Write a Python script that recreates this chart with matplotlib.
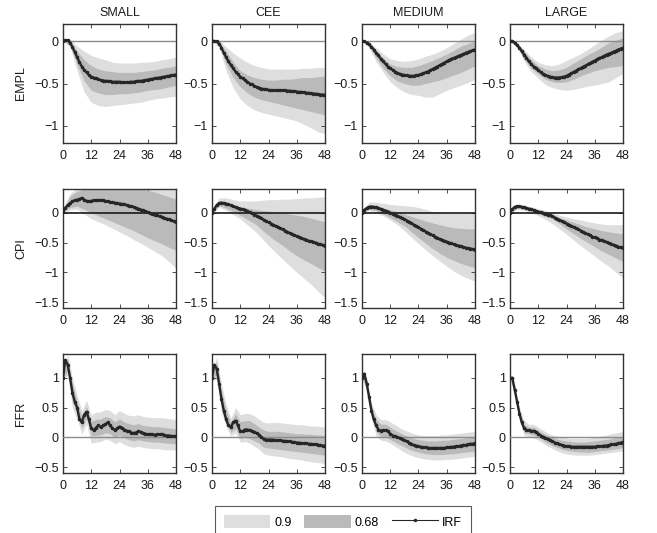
import numpy as np
import matplotlib
matplotlib.use("Agg")
import matplotlib.pyplot as plt
from matplotlib.patches import Patch
from matplotlib.lines import Line2D

plt.rcParams['font.family'] = ['Liberation Sans', 'DejaVu Sans']
plt.rcParams['font.size'] = 9

# %% data
models = ["SMALL", "CEE", "MEDIUM", "LARGE"]
variables = ["EMPL", "CPI", "FFR"]

months = np.arange(49)              # horizon of the IRF
band_months_slow = np.arange(0, 49, 3)   # band grid for EMPL, CPI
band_months_ffr = np.arange(0, 49, 2)    # band grid for FFR

# ---- EMPL
empl_small_irf = [0, 0.01, 0.01, -0.02, -0.07, -0.13, -0.19, -0.25, -0.30, -0.34,
                  -0.37, -0.40, -0.42, -0.43, -0.44, -0.45, -0.46, -0.465, -0.47, -0.47,
                  -0.475, -0.48, -0.48, -0.48, -0.48, -0.485, -0.485, -0.485, -0.485, -0.48,
                  -0.48, -0.475, -0.47, -0.47, -0.465, -0.46, -0.455, -0.45, -0.445, -0.44,
                  -0.435, -0.43, -0.425, -0.42, -0.415, -0.41, -0.405, -0.40, -0.395]
empl_small_u90 = [0.03, 0.02, -0.06, -0.12, -0.17, -0.20, -0.22, -0.25, -0.26, -0.26, -0.26, -0.25, -0.25, -0.24, -0.22, -0.21, -0.19]
empl_small_u68 = [0.01, 0.0, -0.12, -0.22, -0.29, -0.33, -0.35, -0.36, -0.37, -0.37, -0.37, -0.36, -0.35, -0.34, -0.32, -0.31, -0.29]
empl_small_l68 = [0, -0.05, -0.28, -0.47, -0.58, -0.61, -0.63, -0.63, -0.62, -0.62, -0.61, -0.60, -0.58, -0.57, -0.56, -0.54, -0.52]
empl_small_l90 = [0, -0.07, -0.35, -0.60, -0.72, -0.76, -0.77, -0.76, -0.75, -0.74, -0.73, -0.72, -0.70, -0.68, -0.67, -0.66, -0.65]

empl_cee_irf = [0, 0, -0.005, -0.03, -0.08, -0.14, -0.19, -0.24, -0.28, -0.32,
                -0.36, -0.39, -0.42, -0.44, -0.46, -0.48, -0.50, -0.51, -0.53, -0.54,
                -0.55, -0.56, -0.565, -0.57, -0.575, -0.58, -0.58, -0.58, -0.58, -0.58,
                -0.58, -0.58, -0.585, -0.585, -0.59, -0.59, -0.595, -0.60, -0.60, -0.605,
                -0.61, -0.61, -0.615, -0.62, -0.62, -0.625, -0.63, -0.63, -0.635]
empl_cee_u90 = [0.02, 0.01, -0.07, -0.14, -0.20, -0.25, -0.29, -0.31, -0.33, -0.33, -0.33, -0.33, -0.33, -0.32, -0.32, -0.31, -0.31]
empl_cee_u68 = [0.01, -0.01, -0.12, -0.25, -0.35, -0.40, -0.43, -0.45, -0.46, -0.46, -0.45, -0.45, -0.44, -0.43, -0.43, -0.42, -0.41]
empl_cee_l68 = [0, -0.05, -0.27, -0.43, -0.54, -0.61, -0.66, -0.69, -0.71, -0.73, -0.75, -0.77, -0.79, -0.81, -0.83, -0.85, -0.87]
empl_cee_l90 = [0, -0.07, -0.35, -0.55, -0.68, -0.76, -0.81, -0.84, -0.86, -0.88, -0.90, -0.92, -0.94, -0.98, -1.02, -1.07, -1.09]

empl_medium_irf = [0, -0.005, -0.02, -0.04, -0.07, -0.10, -0.14, -0.17, -0.21, -0.24,
                   -0.27, -0.30, -0.32, -0.34, -0.36, -0.375, -0.385, -0.395, -0.40, -0.405,
                   -0.41, -0.41, -0.41, -0.405, -0.40, -0.39, -0.38, -0.37, -0.36, -0.345,
                   -0.33, -0.315, -0.30, -0.285, -0.27, -0.255, -0.24, -0.225, -0.21, -0.20,
                   -0.19, -0.175, -0.165, -0.155, -0.14, -0.13, -0.12, -0.11, -0.10]
empl_medium_u90 = [0.01, -0.01, -0.08, -0.15, -0.21, -0.23, -0.24, -0.23, -0.21, -0.18, -0.155, -0.12, -0.08, -0.03, 0.02, 0.07, 0.10]
empl_medium_u68 = [0.0, -0.02, -0.11, -0.20, -0.27, -0.30, -0.31, -0.31, -0.29, -0.26, -0.23, -0.19, -0.155, -0.11, -0.06, -0.03, 0.0]
empl_medium_l68 = [0, -0.06, -0.20, -0.32, -0.41, -0.47, -0.50, -0.52, -0.52, -0.50, -0.48, -0.46, -0.43, -0.40, -0.37, -0.33, -0.29]
empl_medium_l90 = [0, -0.08, -0.24, -0.37, -0.48, -0.55, -0.60, -0.63, -0.64, -0.66, -0.66, -0.62, -0.58, -0.55, -0.52, -0.49, -0.45]

empl_large_irf = [0, 0, -0.02, -0.05, -0.08, -0.12, -0.16, -0.20, -0.24, -0.27,
                  -0.30, -0.32, -0.345, -0.365, -0.385, -0.40, -0.41, -0.42, -0.425, -0.43,
                  -0.43, -0.43, -0.425, -0.42, -0.41, -0.395, -0.38, -0.365, -0.35, -0.335,
                  -0.32, -0.305, -0.29, -0.275, -0.26, -0.245, -0.23, -0.215, -0.20, -0.19,
                  -0.175, -0.16, -0.15, -0.14, -0.125, -0.115, -0.10, -0.09, -0.08]
empl_large_u90 = [0.01, -0.02, -0.10, -0.19, -0.25, -0.28, -0.29, -0.27, -0.23, -0.19, -0.15, -0.10, -0.04, 0.01, 0.06, 0.10, 0.12]
empl_large_u68 = [0.0, -0.03, -0.12, -0.22, -0.29, -0.33, -0.35, -0.34, -0.31, -0.26, -0.21, -0.16, -0.12, -0.07, -0.02, 0.01, 0.04]
empl_large_l68 = [0, -0.06, -0.21, -0.32, -0.39, -0.45, -0.48, -0.49, -0.48, -0.45, -0.41, -0.38, -0.35, -0.33, -0.31, -0.30, -0.29]
empl_large_l90 = [0, -0.07, -0.24, -0.36, -0.44, -0.51, -0.55, -0.57, -0.58, -0.57, -0.55, -0.53, -0.52, -0.50, -0.48, -0.43, -0.38]

# ---- CPI
cpi_small_irf = [0.03, 0.08, 0.13, 0.16, 0.19, 0.21, 0.22, 0.23, 0.25, 0.22,
                 0.20, 0.19, 0.20, 0.21, 0.21, 0.21, 0.215, 0.21, 0.20, 0.19,
                 0.18, 0.175, 0.17, 0.16, 0.155, 0.15, 0.14, 0.13, 0.12, 0.11,
                 0.10, 0.085, 0.07, 0.055, 0.04, 0.025, 0.01, -0.005, -0.02, -0.03,
                 -0.045, -0.06, -0.07, -0.085, -0.10, -0.11, -0.125, -0.14, -0.155]
cpi_small_u90 = [0.08, 0.32, 0.42, 0.45, 0.47, 0.48, 0.48, 0.48, 0.48, 0.48, 0.47, 0.46, 0.45, 0.44, 0.43, 0.42, 0.41]
cpi_small_u68 = [0.05, 0.28, 0.36, 0.40, 0.42, 0.43, 0.43, 0.43, 0.43, 0.42, 0.41, 0.40, 0.38, 0.35, 0.31, 0.27, 0.23]
cpi_small_l68 = [0.01, 0.09, 0.11, 0.06, 0.0, -0.05, -0.10, -0.15, -0.20, -0.25, -0.30, -0.36, -0.42, -0.47, -0.52, -0.58, -0.63]
cpi_small_l90 = [-0.01, 0.05, 0.06, -0.02, -0.10, -0.15, -0.20, -0.26, -0.32, -0.38, -0.45, -0.51, -0.58, -0.65, -0.72, -0.82, -0.93]

cpi_cee_irf = [0.0, 0.07, 0.13, 0.16, 0.17, 0.165, 0.155, 0.14, 0.125, 0.11,
               0.095, 0.08, 0.07, 0.06, 0.045, 0.03, 0.01, -0.01, -0.03, -0.05,
               -0.07, -0.09, -0.12, -0.14, -0.16, -0.18, -0.20, -0.22, -0.24, -0.26,
               -0.28, -0.30, -0.32, -0.34, -0.36, -0.38, -0.39, -0.41, -0.42, -0.44,
               -0.45, -0.47, -0.48, -0.49, -0.50, -0.52, -0.53, -0.54, -0.55]
cpi_cee_u90 = [0.05, 0.25, 0.25, 0.22, 0.20, 0.20, 0.20, 0.21, 0.22, 0.22, 0.23, 0.23, 0.24, 0.25, 0.25, 0.26, 0.27]
cpi_cee_u68 = [0.03, 0.20, 0.18, 0.13, 0.10, 0.08, 0.06, 0.04, 0.03, 0.01, 0.0, -0.02, -0.04, -0.06, -0.09, -0.12, -0.15]
cpi_cee_l68 = [-0.01, 0.12, 0.08, 0.02, -0.04, -0.11, -0.18, -0.28, -0.38, -0.47, -0.55, -0.64, -0.72, -0.79, -0.85, -0.92, -0.98]
cpi_cee_l90 = [-0.02, 0.10, 0.04, -0.03, -0.10, -0.20, -0.30, -0.42, -0.55, -0.67, -0.78, -0.89, -1.00, -1.10, -1.20, -1.32, -1.43]

cpi_medium_irf = [0.0, 0.05, 0.08, 0.10, 0.105, 0.10, 0.09, 0.08, 0.065, 0.05,
                  0.035, 0.02, 0.0, -0.015, -0.03, -0.05, -0.07, -0.09, -0.11, -0.13,
                  -0.15, -0.175, -0.20, -0.22, -0.245, -0.27, -0.29, -0.315, -0.335, -0.36,
                  -0.38, -0.40, -0.42, -0.44, -0.455, -0.47, -0.485, -0.50, -0.515, -0.53,
                  -0.54, -0.55, -0.565, -0.575, -0.585, -0.595, -0.60, -0.61, -0.62]
cpi_medium_u90 = [0.02, 0.18, 0.18, 0.16, 0.14, 0.13, 0.12, 0.11, 0.09, 0.06, 0.02, 0.01, 0.0, 0.0, 0.0, 0.0, 0.0]
cpi_medium_u68 = [0.01, 0.13, 0.12, 0.08, 0.05, 0.02, -0.02, -0.06, -0.10, -0.14, -0.17, -0.20, -0.23, -0.25, -0.26, -0.27, -0.27]
cpi_medium_l68 = [-0.01, 0.06, 0.04, -0.02, -0.08, -0.15, -0.22, -0.32, -0.42, -0.51, -0.60, -0.68, -0.75, -0.80, -0.85, -0.89, -0.92]
cpi_medium_l90 = [-0.02, 0.04, 0.0, -0.05, -0.12, -0.20, -0.30, -0.41, -0.52, -0.62, -0.72, -0.81, -0.90, -0.98, -1.05, -1.10, -1.15]

cpi_large_irf = [0.0, 0.06, 0.10, 0.11, 0.11, 0.10, 0.09, 0.08, 0.07, 0.06,
                 0.045, 0.03, 0.02, 0.01, 0.0, -0.015, -0.03, -0.045, -0.06, -0.08,
                 -0.10, -0.12, -0.14, -0.16, -0.18, -0.20, -0.22, -0.24, -0.26, -0.28,
                 -0.30, -0.32, -0.34, -0.36, -0.38, -0.40, -0.415, -0.43, -0.45, -0.46,
                 -0.48, -0.49, -0.51, -0.52, -0.54, -0.55, -0.57, -0.58, -0.595]
cpi_large_u90 = [0.02, 0.14, 0.13, 0.10, 0.07, 0.04, 0.0, -0.04, -0.07, -0.10, -0.12, -0.15, -0.17, -0.19, -0.20, -0.20, -0.20]
cpi_large_u68 = [0.01, 0.13, 0.11, 0.07, 0.05, 0.01, -0.03, -0.08, -0.12, -0.16, -0.20, -0.24, -0.27, -0.30, -0.32, -0.34, -0.35]
cpi_large_l68 = [-0.01, 0.08, 0.06, 0.03, -0.02, -0.06, -0.10, -0.18, -0.27, -0.35, -0.43, -0.50, -0.57, -0.64, -0.70, -0.76, -0.82]
cpi_large_l90 = [-0.02, 0.06, 0.04, 0.0, -0.05, -0.11, -0.18, -0.27, -0.36, -0.46, -0.55, -0.64, -0.73, -0.82, -0.90, -1.00, -1.10]

# ---- FFR
ffr_small_irf = [1.0, 1.3, 1.22, 1.0, 0.75, 0.6, 0.5, 0.3, 0.25, 0.38,
                 0.43, 0.3, 0.15, 0.12, 0.16, 0.2, 0.17, 0.2, 0.22, 0.25,
                 0.2, 0.15, 0.12, 0.15, 0.18, 0.16, 0.13, 0.11, 0.1, 0.08,
                 0.07, 0.08, 0.1, 0.09, 0.07, 0.06, 0.05, 0.05, 0.05, 0.04,
                 0.05, 0.05, 0.05, 0.04, 0.03, 0.03, 0.02, 0.02, 0.02]
ffr_small_u90 = [1.05, 1.4, 1.0, 0.7, 0.45, 0.62, 0.38, 0.42, 0.43, 0.47, 0.45, 0.38, 0.45, 0.40, 0.37, 0.36, 0.38, 0.35, 0.34, 0.33, 0.33, 0.33, 0.32, 0.31, 0.30]
ffr_small_u68 = [1.02, 1.32, 0.9, 0.6, 0.35, 0.52, 0.27, 0.30, 0.31, 0.35, 0.33, 0.26, 0.31, 0.26, 0.23, 0.21, 0.23, 0.20, 0.19, 0.18, 0.18, 0.17, 0.16, 0.15, 0.14]
ffr_small_l68 = [0.98, 1.12, 0.6, 0.4, 0.15, 0.32, 0.03, 0.03, 0.04, 0.08, 0.06, -0.01, 0.04, -0.01, -0.04, -0.06, -0.04, -0.06, -0.07, -0.08, -0.08, -0.09, -0.10, -0.10, -0.11]
ffr_small_l90 = [0.95, 1.05, 0.5, 0.3, 0.05, 0.22, -0.10, -0.08, -0.07, -0.03, -0.05, -0.11, -0.07, -0.12, -0.15, -0.17, -0.15, -0.17, -0.18, -0.19, -0.19, -0.20, -0.21, -0.21, -0.21]

ffr_cee_irf = [1.0, 1.22, 1.15, 0.9, 0.65, 0.45, 0.3, 0.2, 0.17, 0.25,
               0.28, 0.2, 0.1, 0.1, 0.13, 0.13, 0.12, 0.1, 0.09, 0.07,
               0.04, 0.0, -0.03, -0.04, -0.04, -0.04, -0.04, -0.05, -0.05, -0.05,
               -0.06, -0.06, -0.07, -0.07, -0.08, -0.08, -0.09, -0.09, -0.1, -0.1,
               -0.1, -0.11, -0.11, -0.12, -0.12, -0.13, -0.13, -0.14, -0.14]
ffr_cee_u90 = [1.05, 1.35, 0.9, 0.55, 0.32, 0.50, 0.38, 0.40, 0.40, 0.36, 0.30, 0.25, 0.24, 0.25, 0.25, 0.24, 0.23, 0.22, 0.21, 0.21, 0.20, 0.19, 0.19, 0.18, 0.17]
ffr_cee_u68 = [1.02, 1.28, 0.78, 0.45, 0.25, 0.40, 0.26, 0.28, 0.28, 0.23, 0.17, 0.12, 0.10, 0.10, 0.10, 0.09, 0.08, 0.07, 0.06, 0.06, 0.05, 0.05, 0.04, 0.04, 0.03]
ffr_cee_l68 = [0.98, 1.05, 0.5, 0.25, 0.08, 0.15, -0.02, 0.0, -0.02, -0.06, -0.10, -0.17, -0.18, -0.19, -0.20, -0.21, -0.22, -0.23, -0.24, -0.25, -0.26, -0.27, -0.28, -0.29, -0.30]
ffr_cee_l90 = [0.95, 0.98, 0.42, 0.18, 0.02, 0.08, -0.08, -0.07, -0.10, -0.15, -0.20, -0.28, -0.30, -0.31, -0.32, -0.33, -0.35, -0.36, -0.37, -0.38, -0.40, -0.41, -0.42, -0.43, -0.45]

ffr_medium_irf = [1.0, 1.07, 0.9, 0.68, 0.45, 0.3, 0.2, 0.13, 0.11, 0.12,
                  0.12, 0.1, 0.06, 0.03, 0.02, 0.0, -0.01, -0.03, -0.05, -0.07,
                  -0.09, -0.11, -0.13, -0.14, -0.15, -0.16, -0.17, -0.17, -0.18, -0.18,
                  -0.18, -0.18, -0.18, -0.18, -0.18, -0.18, -0.17, -0.17, -0.16, -0.16,
                  -0.15, -0.15, -0.14, -0.13, -0.13, -0.12, -0.11, -0.11, -0.10]
ffr_medium_u90 = [1.02, 1.02, 0.58, 0.38, 0.30, 0.30, 0.26, 0.21, 0.16, 0.12, 0.09, 0.06, 0.04, 0.03, 0.03, 0.03, 0.03, 0.04, 0.04, 0.05, 0.06, 0.07, 0.08, 0.09, 0.10]
ffr_medium_u68 = [1.01, 0.96, 0.52, 0.30, 0.22, 0.22, 0.17, 0.12, 0.08, 0.04, 0.01, -0.02, -0.04, -0.05, -0.06, -0.06, -0.06, -0.05, -0.05, -0.04, -0.03, -0.02, -0.01, 0.0, 0.01]
ffr_medium_l68 = [0.99, 0.84, 0.38, 0.10, 0.02, 0.01, -0.04, -0.08, -0.12, -0.16, -0.20, -0.23, -0.25, -0.27, -0.28, -0.29, -0.29, -0.29, -0.28, -0.28, -0.27, -0.26, -0.25, -0.24, -0.23]
ffr_medium_l90 = [0.98, 0.78, 0.32, 0.02, -0.05, -0.06, -0.10, -0.15, -0.20, -0.25, -0.29, -0.32, -0.34, -0.36, -0.37, -0.38, -0.38, -0.38, -0.37, -0.37, -0.36, -0.35, -0.34, -0.33, -0.32]

ffr_large_irf = [1.0, 1.0, 0.8, 0.6, 0.4, 0.25, 0.15, 0.12, 0.12, 0.1,
                 0.11, 0.09, 0.06, 0.03, 0.01, -0.01, -0.03, -0.05, -0.07, -0.09,
                 -0.1, -0.12, -0.13, -0.14, -0.15, -0.15, -0.16, -0.16, -0.16, -0.16,
                 -0.16, -0.16, -0.16, -0.16, -0.16, -0.16, -0.16, -0.15, -0.15, -0.15,
                 -0.14, -0.14, -0.13, -0.12, -0.12, -0.11, -0.1, -0.09, -0.08]
ffr_large_u90 = [1.02, 0.88, 0.5, 0.28, 0.22, 0.22, 0.17, 0.12, 0.07, 0.04, 0.02, 0.0, -0.01, -0.02, -0.02, -0.02, -0.02, -0.01, 0.0, 0.02, 0.03, 0.05, 0.07, 0.08, 0.10]
ffr_large_u68 = [1.01, 0.84, 0.45, 0.22, 0.17, 0.17, 0.12, 0.07, 0.03, 0.0, -0.03, -0.05, -0.06, -0.07, -0.08, -0.08, -0.08, -0.07, -0.06, -0.05, -0.04, -0.03, -0.01, 0.0, 0.01]
ffr_large_l68 = [0.99, 0.76, 0.35, 0.08, 0.06, 0.04, 0.0, -0.05, -0.10, -0.14, -0.17, -0.20, -0.22, -0.23, -0.24, -0.25, -0.25, -0.25, -0.24, -0.23, -0.22, -0.21, -0.20, -0.19, -0.17]
ffr_large_l90 = [0.98, 0.72, 0.30, 0.03, 0.01, -0.01, -0.05, -0.10, -0.15, -0.19, -0.23, -0.26, -0.28, -0.29, -0.30, -0.30, -0.30, -0.30, -0.29, -0.28, -0.27, -0.26, -0.25, -0.24, -0.23]

# panel table built from the named arrays: (irf, u90, u68, l68, l90)
panels = {
    ("EMPL", "SMALL"): (empl_small_irf, empl_small_u90, empl_small_u68, empl_small_l68, empl_small_l90),
    ("EMPL", "CEE"): (empl_cee_irf, empl_cee_u90, empl_cee_u68, empl_cee_l68, empl_cee_l90),
    ("EMPL", "MEDIUM"): (empl_medium_irf, empl_medium_u90, empl_medium_u68, empl_medium_l68, empl_medium_l90),
    ("EMPL", "LARGE"): (empl_large_irf, empl_large_u90, empl_large_u68, empl_large_l68, empl_large_l90),
    ("CPI", "SMALL"): (cpi_small_irf, cpi_small_u90, cpi_small_u68, cpi_small_l68, cpi_small_l90),
    ("CPI", "CEE"): (cpi_cee_irf, cpi_cee_u90, cpi_cee_u68, cpi_cee_l68, cpi_cee_l90),
    ("CPI", "MEDIUM"): (cpi_medium_irf, cpi_medium_u90, cpi_medium_u68, cpi_medium_l68, cpi_medium_l90),
    ("CPI", "LARGE"): (cpi_large_irf, cpi_large_u90, cpi_large_u68, cpi_large_l68, cpi_large_l90),
    ("FFR", "SMALL"): (ffr_small_irf, ffr_small_u90, ffr_small_u68, ffr_small_l68, ffr_small_l90),
    ("FFR", "CEE"): (ffr_cee_irf, ffr_cee_u90, ffr_cee_u68, ffr_cee_l68, ffr_cee_l90),
    ("FFR", "MEDIUM"): (ffr_medium_irf, ffr_medium_u90, ffr_medium_u68, ffr_medium_l68, ffr_medium_l90),
    ("FFR", "LARGE"): (ffr_large_irf, ffr_large_u90, ffr_large_u68, ffr_large_l68, ffr_large_l90),
}

ylims = {"EMPL": (-1.2, 0.2), "CPI": (-1.6, 0.4), "FFR": (-0.6, 1.4)}
yticks = {"EMPL": [-1, -0.5, 0], "CPI": [-1.5, -1, -0.5, 0], "FFR": [-0.5, 0, 0.5, 1]}
zero_color = {"EMPL": "#8c8c8c", "CPI": "#1a1a1a", "FFR": "#8c8c8c"}
xticks = [0, 12, 24, 36, 48]

light = "#dedede"
dark = "#bababa"
line_col = "#262626"

# %% figure
W, H = 657, 533
fig = plt.figure(figsize=(W / 100, H / 100), dpi=100)

col_left = [63, 212, 362, 510]
row_top = [24, 189, 354]
aw, ah = 113, 119


def fmt(v):
    s = ("%g" % v)
    return s.replace("-", "\u2212")


for r, var in enumerate(variables):
    bx = band_months_ffr if var == "FFR" else band_months_slow
    for c, mod in enumerate(models):
        irf, u90, u68, l68, l90 = panels[(var, mod)]
        ax = fig.add_axes([col_left[c] / W, 1 - (row_top[r] + ah) / H, aw / W, ah / H])
        ax.fill_between(bx, l90, u90, color=light, lw=0, zorder=1)
        ax.fill_between(bx, l68, u68, color=dark, lw=0, zorder=2)
        ax.axhline(0, color=zero_color[var], lw=1.0 if var != "CPI" else 1.2, zorder=3)
        ax.plot(months, irf, color=line_col, lw=1.7, marker='.', ms=3, zorder=4)
        ax.set_xlim(0, 48)
        ax.set_ylim(*ylims[var])
        ax.set_xticks(xticks)
        ax.set_yticks(yticks[var])
        ax.set_yticklabels([fmt(v) for v in yticks[var]])
        ax.tick_params(direction='in', length=3, width=0.6, top=True, right=True,
                       labelsize=9, pad=3, colors='#333333', labelcolor='#1a1a1a')
        ax.tick_params(axis='x', pad=5)
        for sp in ax.spines.values():
            sp.set_color('#333333')
            sp.set_linewidth(1.0)
        if r == 0:
            ax.set_title(mod, fontsize=9, pad=6, color='#1a1a1a')
        if c == 0:
            fig.text(21 / W, 1 - (row_top[r] + ah / 2) / H, var, rotation=90,
                     ha='center', va='center', fontsize=9, color='#1a1a1a')

# legend (bottom part is cut by the figure edge, like the reference)
handles = [Patch(facecolor=light, edgecolor='none'),
           Patch(facecolor=dark, edgecolor='none'),
           Line2D([0], [0], color=line_col, lw=0.8, marker='.', ms=3)]
leg = fig.legend(handles, ["0.9", "0.68", "IRF"], ncol=3, loc='upper left',
                 bbox_to_anchor=(215 / W, 1 - 506 / H), borderaxespad=0,
                 handlelength=3.7, handleheight=1.3, handletextpad=0.35,
                 columnspacing=1.0, fontsize=9, fancybox=False, numpoints=1,
                 borderpad=0.7)
leg.get_frame().set_edgecolor('#333333')
leg.get_frame().set_linewidth(0.8)

fig.savefig("out.png", dpi=100)
